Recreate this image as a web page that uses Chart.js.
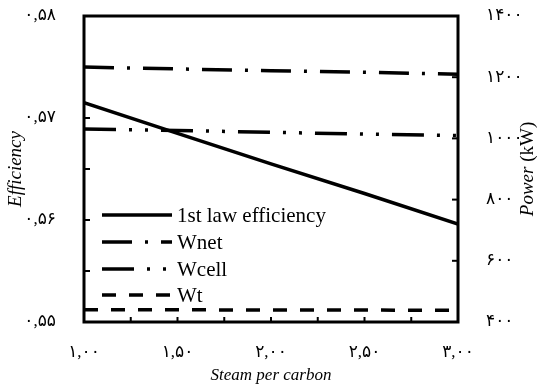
<!DOCTYPE html>
<html>
<head>
<meta charset="utf-8">
<script src="https://cdn.jsdelivr.net/npm/chart.js@4.4.1/dist/chart.umd.min.js"></script>
<style>
  html, body { margin: 0; padding: 0; background: #fff; }
  canvas { display: block; }
</style>
</head>
<body>
<canvas id="myChart" width="540" height="392"></canvas>
<script>
// steam per carbon (x)
const steamPerCarbon = [1.0, 1.5, 2.0, 2.5, 3.0];
// left axis: efficiency
const firstLawEff = [0.5715, 0.5685, 0.5655, 0.5626, 0.5596];
// right axis: power (kW)
const wNet = [1233, 1227, 1221, 1216, 1210];
const wCell = [1031, 1026, 1020, 1014, 1009];
const wT = [440, 440, 439, 439, 438];

const faDigits = '۰۱۲۳۴۵۶۷۸۹';
function toFa(s) {
  return s.replace(/\d/g, d => faDigits[d]).replace('.', ',');
}

function pts(ys) {
  return steamPerCarbon.map((x, i) => ({ x: x, y: ys[i] }));
}

const serif = "'Liberation Serif', 'Times New Roman', serif";
const tickFont = { family: serif + ", 'DejaVu Sans'", size: 17 };

// inner tick marks + frame
const framePlugin = {
  id: 'frame',
  afterDatasetsDraw(chart) {
    const ctx = chart.ctx;
    const a = chart.chartArea;
    const sx = chart.scales.x, sy = chart.scales.y, sy1 = chart.scales.y1;
    ctx.save();
    ctx.strokeStyle = '#000';
    ctx.lineWidth = 2;
    sx.ticks.forEach(t => {
      const px = sx.getPixelForValue(t.value);
      ctx.beginPath(); ctx.moveTo(px, a.bottom); ctx.lineTo(px, a.bottom - 5); ctx.stroke();
    });
    sy.ticks.forEach(t => {
      const py = sy.getPixelForValue(t.value);
      ctx.beginPath(); ctx.moveTo(a.left, py); ctx.lineTo(a.left + 6, py); ctx.stroke();
    });
    sy1.ticks.forEach(t => {
      const py = sy1.getPixelForValue(t.value);
      ctx.beginPath(); ctx.moveTo(a.right, py); ctx.lineTo(a.right - 6, py); ctx.stroke();
    });
    ctx.lineWidth = 3;
    ctx.strokeRect(a.left, a.top, a.right - a.left, a.bottom - a.top);
    ctx.restore();
  }
};

// legend drawn inside the plot, lower left
const innerLegend = {
  id: 'innerLegend',
  afterDraw(chart) {
    const ctx = chart.ctx;
    const a = chart.chartArea;
    const rows = [215, 242, 269, 295];
    ctx.save();
    ctx.font = '21px ' + serif;
    ctx.textBaseline = 'middle';
    ctx.fillStyle = '#000';
    chart.data.datasets.forEach((ds, i) => {
      const y = rows[i];
      const x0 = a.left + 18;
      ctx.strokeStyle = '#000';
      ctx.lineWidth = ds.borderWidth;
      ctx.lineCap = 'butt';
      ctx.setLineDash(ds.borderDash || []);
      ctx.beginPath(); ctx.moveTo(x0, y); ctx.lineTo(x0 + 70, y); ctx.stroke();
      ctx.setLineDash([]);
      ctx.fillText(ds.label, x0 + 75, y + 1);
    });
    ctx.restore();
  }
};

// right axis title reads bottom to top, "Power" italic, "(kW)" upright
const rightTitle = {
  id: 'rightTitle',
  afterDraw(chart) {
    const ctx = chart.ctx;
    const a = chart.chartArea;
    ctx.save();
    ctx.translate(528, (a.top + a.bottom) / 2);
    ctx.rotate(-Math.PI / 2);
    ctx.fillStyle = '#000';
    ctx.textBaseline = 'middle';
    const p1 = 'Power ', p2 = '(kW)';
    ctx.font = 'italic 19px ' + serif;
    const w1 = ctx.measureText(p1).width;
    ctx.font = '19px ' + serif;
    const w2 = ctx.measureText(p2).width;
    let x = -(w1 + w2) / 2;
    ctx.font = 'italic 19px ' + serif;
    ctx.fillText(p1, x, 0);
    ctx.font = '19px ' + serif;
    ctx.fillText(p2, x + w1, 0);
    ctx.restore();
  }
};

const chart = new Chart(document.getElementById('myChart'), {
  type: 'line',
  data: {
    datasets: [
      {
        label: '1st law efficiency',
        data: pts(firstLawEff),
        yAxisID: 'y',
        borderColor: '#000',
        borderWidth: 3.5,
        borderDash: [],
      },
      {
        label: 'Wnet',
        data: pts(wNet),
        yAxisID: 'y1',
        borderColor: '#000',
        borderWidth: 3.5,
        borderDash: [30, 13, 3, 13],
      },
      {
        label: 'Wcell',
        data: pts(wCell),
        yAxisID: 'y1',
        borderColor: '#000',
        borderWidth: 3.5,
        borderDash: [32, 13, 3, 13, 3, 13],
      },
      {
        label: 'Wt',
        data: pts(wT),
        yAxisID: 'y1',
        borderColor: '#000',
        borderWidth: 3.5,
        borderDash: [14, 13],
      },
    ],
  },
  options: {
    responsive: false,
    animation: false,
    layout: { padding: { top: 16, left: 0, right: 0, bottom: 0 } },
    elements: {
      point: { radius: 0 },
      line: { tension: 0, borderCapStyle: 'butt', fill: false },
    },
    plugins: {
      legend: { display: false },
      tooltip: { enabled: false },
    },
    scales: {
      x: {
        type: 'linear',
        min: 1,
        max: 3,
        grid: { display: false },
        border: { display: false },
        ticks: {
          stepSize: 0.25,
          autoSkip: false,
          maxRotation: 0,
          padding: 12,
          color: '#000',
          font: tickFont,
          callback: v => (Math.round(v * 100) % 50 === 0 ? toFa(v.toFixed(2)) : ''),
        },
        title: {
          display: true,
          text: 'Steam per carbon',
          color: '#000',
          font: { family: serif, size: 17, style: 'italic' },
          padding: { top: 0, bottom: 6 },
        },
        afterFit: s => { s.height = 70; },
      },
      y: {
        position: 'left',
        min: 0.55,
        max: 0.58,
        grid: { display: false },
        border: { display: false },
        ticks: {
          stepSize: 0.005,
          autoSkip: false,
          padding: 20,
          color: '#000',
          font: tickFont,
          callback: v => (Math.round(v * 1000) % 10 === 0 ? toFa(v.toFixed(2)) : ''),
        },
        title: {
          display: true,
          text: 'Efficiency',
          color: '#000',
          font: { family: serif, size: 19, style: 'italic' },
          padding: { top: 5, bottom: 0 },
        },
        afterFit: s => { s.width = 84; s.paddingTop = 0; s.paddingBottom = 0; },
      },
      y1: {
        position: 'right',
        min: 400,
        max: 1400,
        grid: { display: false },
        border: { display: false },
        ticks: {
          stepSize: 200,
          autoSkip: false,
          padding: 20,
          color: '#000',
          font: tickFont,
          callback: v => toFa(String(v)),
        },
        afterFit: s => { s.width = 82; s.paddingTop = 0; s.paddingBottom = 0; },
      },
    },
  },
  plugins: [framePlugin, innerLegend, rightTitle],
});
</script>
</body>
</html>
